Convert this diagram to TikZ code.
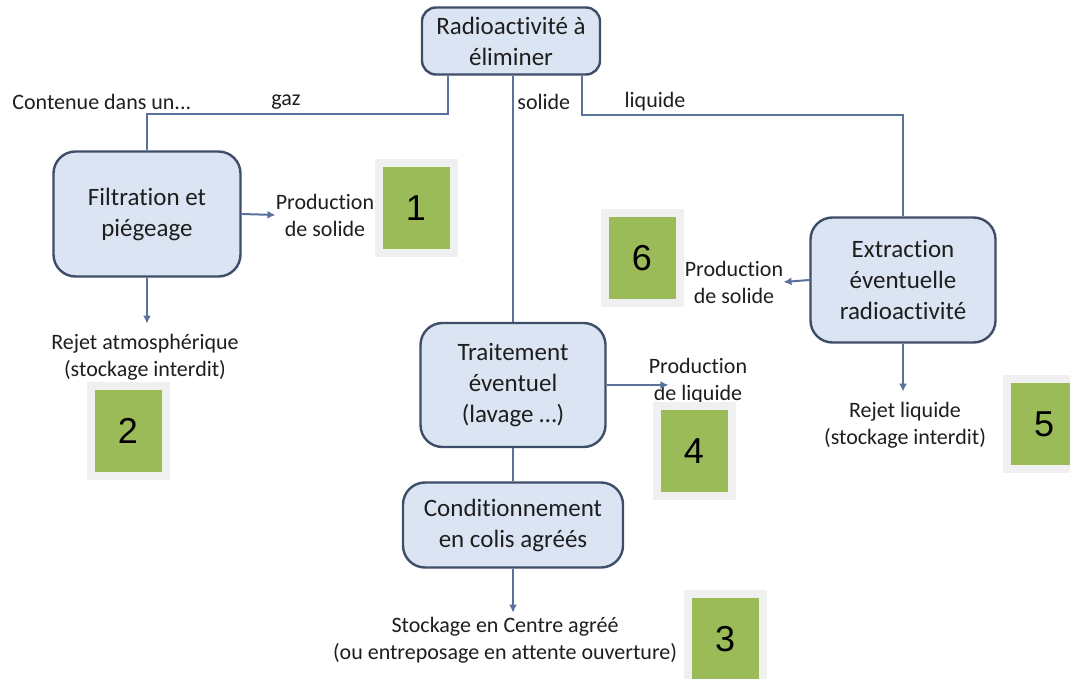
\documentclass[tikz,border=0pt]{standalone}
\usepackage{fontspec}
\setmainfont{Carlito}[Ligatures=NoCommon]
\newfontfamily\numfont{Liberation Sans}
\usetikzlibrary{positioning, arrows.meta}
\definecolor{boxfill}{RGB}{219,228,242}
\definecolor{boxline}{RGB}{62,78,104}
\definecolor{linkcol}{RGB}{88,114,154}
\definecolor{badgegreen}{RGB}{155,187,89}
\definecolor{badgeframe}{RGB}{240,240,240}
\definecolor{txt}{RGB}{30,30,30}

\begin{document}
\begin{tikzpicture}[x=0.5pt, y=-0.5pt,
    every node/.style={text=txt},
    box/.style={rectangle, rounded corners=11pt, draw=boxline, line width=1.2pt, fill=boxfill, align=center, inner sep=2pt, font=\fontsize{12.5}{15.5}\selectfont},
    note/.style={align=center, inner xsep=0pt, inner ysep=5pt, font=\fontsize{11}{13.5}\selectfont},
    badge/.style={rectangle, fill=badgegreen, draw=badgeframe, line width=4pt, minimum width=37.5pt, minimum height=45pt, text=black, font=\numfont\fontsize{18}{18}\selectfont},
    link/.style={draw=linkcol, line width=1pt},
    arrow/.style={link, -{Latex[length=4pt, width=4pt]}}]

  \clip (0,0) rectangle (1070,679);
  \fill[white] (0,0) rectangle (1070,679);

  \node[box, rounded corners=7pt, minimum width=89pt, minimum height=33.5pt] (radio) at (511,41) {Radioactivité à\\éliminer};
  \node[box, minimum width=93.5pt, minimum height=62.5pt] (filt) at (147,214) {Filtration et\\piégeage};
  \node[box, minimum width=92.5pt, minimum height=62pt] (trait) at (513,385) {Traitement\\éventuel\\(lavage …)};
  \node[box, minimum width=110pt, minimum height=42.5pt] (cond) at (513,525) {Conditionnement\\en colis agréés};
  \node[box, minimum width=92.5pt, minimum height=62.5pt] (extr) at (903,280) {Extraction\\éventuelle\\radioactivité};

  \node[note, anchor=west] (contenue) at (12,102) {Contenue dans un...};
  \node[note] (gaz) at (286,102) {gaz};
  \node[note, anchor=west] (solide) at (517,102) {solide};
  \node[note] (liquide) at (655,102) {liquide};

  \node[note] (prodsol1) at (325,215) {Production\\de solide};
  \node[note] (rejatm) at (145,357) {Rejet atmosphérique\\(stockage interdit)};
  \node[note] (prodliq) at (698,381) {Production\\de liquide};
  \node[note] (stock) at (505,640) {Stockage en Centre agréé\\(ou entreposage en attente ouverture)};
  \node[note] (prodsol6) at (734,282) {Production\\de solide};
  \node[note] (rejliq) at (905,425) {Rejet liquide\\(stockage interdit)};

  \coordinate (gazturn) at (448,114);
  \coordinate (liqturn) at (582,115);
  \draw[link] (radio.south -| gazturn) -- (gazturn) -| (filt.north);
  \draw[link] (radio.south -| liqturn) -- (liqturn) -| (extr.north);
  \draw[link] (radio.south -| trait.north) -- (trait.north);
  \draw[link] (trait.south) -- (cond.north);

  \draw[arrow] (filt.east) -- (prodsol1.west);
  \draw[arrow] (filt.south) -- (filt.south |- rejatm.north);
  \draw[arrow] (trait.east) -- ([xshift=10pt]prodliq.west |- trait.east);
  \draw[arrow, shorten >=-3pt] (cond.south) -- (cond.south |- stock.north);
  \draw[arrow] (extr.west) -- (prodsol6.east);
  \draw[arrow] (extr.south) -- (extr.south |- rejliq.north);

  \node[badge] (n1) at (416,208) {1};
  \node[badge] (n2) at (128,431) {2};
  \node[badge] (n3) at (725,639) {3};
  \node[badge] (n4) at (694,451) {4};
  \node[badge] (n5) at (1044,424) {5};
  \node[badge] (n6) at (642,258) {6};
\end{tikzpicture}
\end{document}
